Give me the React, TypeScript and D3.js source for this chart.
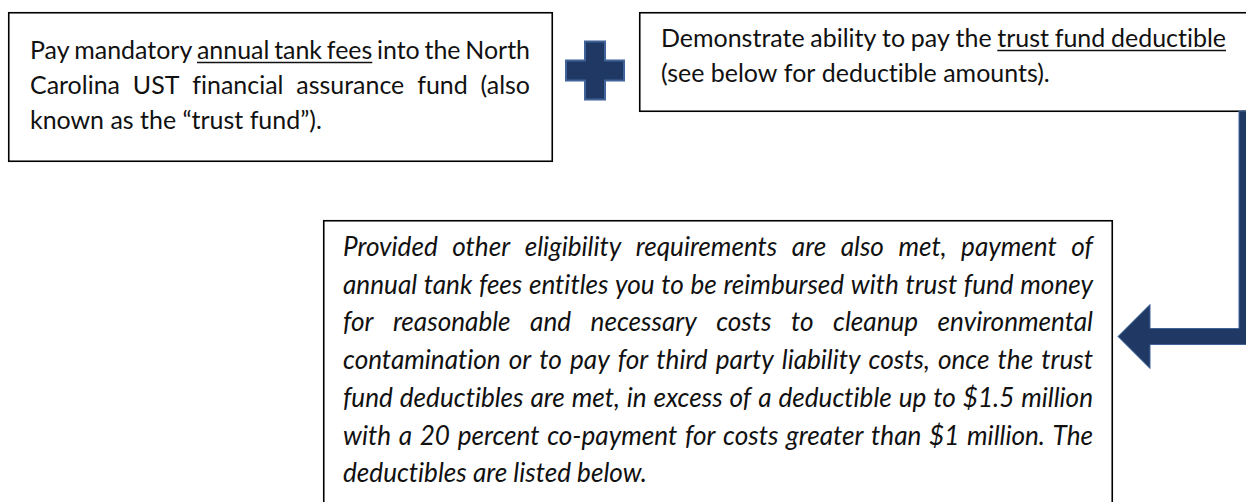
import React, { useEffect, useRef } from 'react';
import * as d3 from 'd3';

// text of the three boxes, one entry per printed line
const feeLines = [
  'Pay mandatory annual tank fees into the North',
  'Carolina UST financial assurance fund (also',
  'known as the “trust fund”).',
];
const feeUnderline = 'annual tank fees';

const deductibleLines = [
  'Demonstrate ability to pay the trust fund deductible',
  '(see below for deductible amounts).',
];
const deductibleUnderline = 'trust fund deductible';

const reimburseLines = [
  'Provided other eligibility requirements are also met, payment of',
  'annual tank fees entitles you to be reimbursed with trust fund money',
  'for reasonable and necessary costs to cleanup environmental',
  'contamination or to pay for third party liability costs, once the trust',
  'fund deductibles are met, in excess of a deductible up to $1.5 million',
  'with a 20 percent co-payment for costs greater than $1 million. The',
  'deductibles are listed below.',
];

const W = 1246;
const H = 502;
const NAVY = '#203864';
const EDGE = '#41639a';
const INK = '#111';
const FONT = 'Lato, "Open Sans", "Liberation Sans", sans-serif';

type Para = {
  lines: string[];
  underline?: string;
  x0: number;
  x1: number;
  base: number;
  lead: number;
  italic: boolean;
  lastWidth: number;
};

const drawPara = (g: any, p: Para) => {
  const probe = g.append('text')
    .attr('x', -2000).attr('y', -2000)
    .style('font-family', FONT)
    .style('font-style', p.italic ? 'italic' : 'normal')
    .style('font-variant-ligatures', 'none')
    .style('font-size', '20px');
  const measure = (s: string) => {
    probe.text(s);
    return (probe.node() as SVGTextElement).getComputedTextLength();
  };
  // size the font so the unjustified last line is as wide as in the original
  const size = 20 * p.lastWidth / measure(p.lines[p.lines.length - 1]);
  probe.style('font-size', `${size}px`);
  const space = measure('a a') - measure('aa');

  p.lines.forEach((line, i) => {
    const words = line.split(' ');
    const widths = words.map(measure);
    const y = p.base + i * p.lead;
    const justify = i < p.lines.length - 1 && words.length > 1;
    const gap = justify ? (p.x1 - p.x0 - d3.sum(widths)) / (words.length - 1) : space;
    let cur = p.x0;
    const xs = widths.map(w => { const s = cur; cur += w + gap; return s; });

    g.selectAll(null)
      .data(words)
      .enter()
      .append('text')
      .attr('x', (_: string, j: number) => xs[j])
      .attr('y', y)
      .style('font-family', FONT)
      .style('font-style', p.italic ? 'italic' : 'normal')
      .style('font-variant-ligatures', 'none')
      .style('font-size', `${size}px`)
      .style('fill', INK)
      .text((d: string) => d);

    if (p.underline) {
      const uw = p.underline.split(' ');
      for (let j = 0; j + uw.length <= words.length; j++) {
        if (uw.every((u, k) => words[j + k] === u)) {
          const last = j + uw.length - 1;
          g.append('line')
            .attr('x1', xs[j])
            .attr('x2', xs[last] + widths[last])
            .attr('y1', y + 3.5)
            .attr('y2', y + 3.5)
            .style('stroke', INK)
            .style('stroke-width', 1.3);
        }
      }
    }
  });
  probe.remove();
};

const App = () => {
  const ref = useRef<SVGSVGElement>(null);

  useEffect(() => {
    const svg = d3.select(ref.current);
    svg.selectAll('*').remove();
    const g = svg.append('g');

    // boxes
    const boxes = [
      { x: 8, y: 12, w: 545, h: 150 },
      { x: 639, y: 12, w: 640, h: 100 },
      { x: 323, y: 220, w: 790, h: 320 },
    ];
    g.selectAll('rect.box')
      .data(boxes)
      .enter()
      .append('rect')
      .attr('class', 'box')
      .attr('x', d => d.x + 0.75)
      .attr('y', d => d.y + 0.75)
      .attr('width', d => d.w - 1.5)
      .attr('height', d => d.h - 1.5)
      .style('fill', '#fff')
      .style('stroke', '#000')
      .style('stroke-width', 1.6);

    const line = d3.line();

    // plus sign
    const cx = 595, cy = 70.5, r = 29, t = 10;
    const plus: [number, number][] = [
      [cx - t, cy - r], [cx + t, cy - r], [cx + t, cy - t], [cx + r, cy - t],
      [cx + r, cy + t], [cx + t, cy + t], [cx + t, cy + r], [cx - t, cy + r],
      [cx - t, cy + t], [cx - r, cy + t], [cx - r, cy - t], [cx - t, cy - t],
    ];
    g.append('path')
      .attr('d', line(plus) + 'Z')
      .style('fill', NAVY)
      .style('stroke', EDGE)
      .style('stroke-width', 2);

    // elbow arrow from the right box down to the bottom box
    const sx = 1239, sw = 16, top = 111, ay = 336.5, tipX = 1118, headX = 1150, headH = 32;
    const arrow: [number, number][] = [
      [sx, top], [sx + sw, top], [sx + sw, ay + sw / 2], [headX, ay + sw / 2],
      [headX, ay + headH], [tipX, ay], [headX, ay - headH], [headX, ay - sw / 2],
      [sx, ay - sw / 2],
    ];
    g.append('path')
      .attr('d', line(arrow) + 'Z')
      .style('fill', NAVY)
      .style('stroke', EDGE)
      .style('stroke-width', 1);

    drawPara(g, { lines: feeLines, underline: feeUnderline, x0: 30, x1: 530, base: 59, lead: 35, italic: false, lastWidth: 292 });
    drawPara(g, { lines: deductibleLines, underline: deductibleUnderline, x0: 661, x1: 1226, base: 47, lead: 35, italic: false, lastWidth: 388 });
    drawPara(g, { lines: reimburseLines, x0: 343, x1: 1093, base: 256, lead: 37.7, italic: true, lastWidth: 304 });
  }, []);

  return (
    <svg
      ref={ref}
      width={W}
      height={H}
      style={{ position: 'absolute', left: 0, top: 0, background: '#fff', display: 'block' }}
    />
  );
};

export default App;
